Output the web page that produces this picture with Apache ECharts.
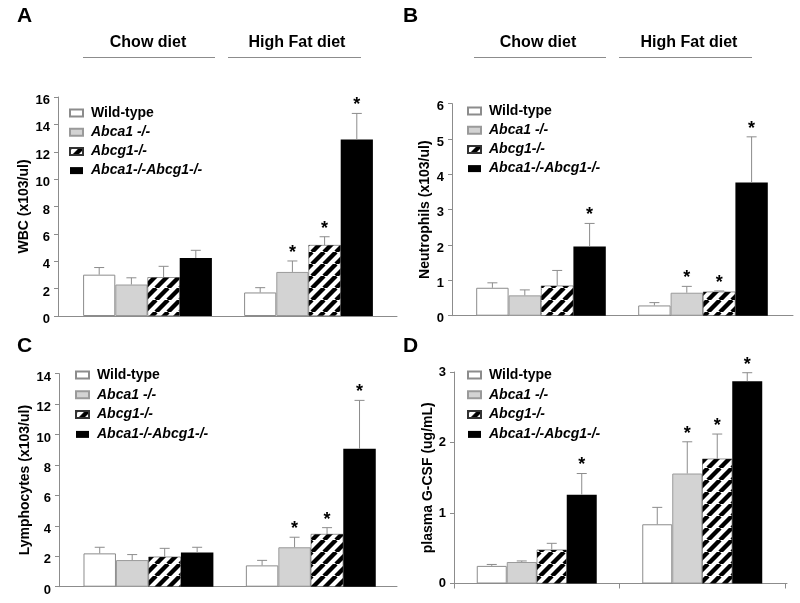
<!DOCTYPE html>
<html><head><meta charset="utf-8">
<script src="https://cdn.jsdelivr.net/npm/echarts@6/dist/echarts.min.js"></script>
<style>html,body{margin:0;padding:0;background:#fff}#c{width:800px;height:603px}</style>
</head><body><div id="c"></div>
<script>
// ---- data ----
const diets = ['Chow diet', 'High Fat diet'];
const genotypes = ['Wild-type', 'Abca1 -/-', 'Abcg1-/-', 'Abca1-/-Abcg1-/-'];
// values per genotype: [chow, high fat]
const wbcMean  = [[3.02, 1.72], [2.30, 3.22], [2.83, 5.18], [4.24, 12.9]];
const wbcErr   = [[3.54, 2.07], [2.79, 4.02], [3.63, 5.79], [4.80, 14.8]];
const wbcSig   = [[0, 0], [0, 1], [0, 1], [0, 1]];
const neuMean  = [[0.79, 0.29], [0.575, 0.65], [0.85, 0.68], [1.96, 3.77]];
const neuErr   = [[0.93, 0.37], [0.73, 0.83], [1.28, 0.70], [2.61, 5.06]];
const neuSig   = [[0, 0], [0, 1], [0, 1], [1, 1]];
const lymMean  = [[2.19, 1.40], [1.75, 2.59], [1.97, 3.46], [2.24, 9.06]];
const lymErr   = [[2.59, 1.73], [2.11, 3.25], [2.52, 3.88], [2.59, 12.24]];
const lymSig   = [[0, 0], [0, 1], [0, 1], [0, 1]];
const gcsfMean = [[0.25, 0.84], [0.305, 1.56], [0.48, 1.77], [1.26, 2.87]];
const gcsfErr  = [[0.27, 1.08], [0.32, 2.01], [0.57, 2.12], [1.56, 2.99]];
const gcsfSig  = [[0, 0], [0, 1], [0, 1], [1, 1]];
const yNames = ['WBC (x103/ul)', 'Neutrophils (x103/ul)', 'Lymphocytes (x103/ul)', 'plasma G-CSF (ug/mL)'];
const yMax = [16, 6, 14, 3];
const yStep = [2, 1, 2, 1];
const panelLetters = ['A', 'B', 'C', 'D'];

// ---- styling ----
const FONT = 'Liberation Sans, Arial, Helvetica, sans-serif';
const catGaps = [0.20, 0.20, 0.20, 0.275];
function hatchCanvas() {
  const s = 12, c = document.createElement('canvas');
  c.width = c.height = s;
  const g = c.getContext('2d');
  g.fillStyle = '#fff'; g.fillRect(0, 0, s, s);
  g.strokeStyle = '#000'; g.lineWidth = 4.4;
  for (const k of [-s, 0, s]) { g.beginPath(); g.moveTo(k, s); g.lineTo(k + s, 0); g.stroke(); }
  return c;
}
const hatch = { image: hatchCanvas(), repeat: 'repeat' };
const barStyles = [
  { color: '#ffffff', borderColor: '#8c8c8c', borderWidth: 1 },
  { color: '#d3d3d3', borderColor: '#9a9a9a', borderWidth: 1 },
  { color: hatch, borderColor: '#333', borderWidth: 0.5 },
  { color: '#000000', borderColor: '#000', borderWidth: 0 }
];

const panels = [
  { mean: wbcMean, err: wbcErr, sig: wbcSig },
  { mean: neuMean, err: neuErr, sig: neuSig },
  { mean: lymMean, err: lymErr, sig: lymSig },
  { mean: gcsfMean, err: gcsfErr, sig: gcsfSig }
];
// plotting grids (category band area)
const grids = [
  { left: 67, right: 411, top: 97, bottom: 287 },
  { left: 460, right: 16, top: 103.6, bottom: 287.3 },
  { left: 67.25, right: 408, top: 373.6, bottom: 16.3 },
  { left: 454, right: 15, top: 372, bottom: 19.5 }
];
// full axis-line extent
const lineGrids = [
  { left: 58, right: 403, top: 97, bottom: 287 },
  { left: 452, right: 7, top: 103.6, bottom: 287.3 },
  { left: 59, right: 403, top: 373.6, bottom: 16.3 },
  { left: 454, right: 13, top: 372, bottom: 19.5 }
];
const yOffsets = grids.map((g, i) => g.left - lineGrids[i].left);
const nameGaps = [26, 20, 25, 16];
const labelShift = [7, 6, 7, 0];
const legendPos = [
  { left: 69, top: 106, gap: 5.2 }, { left: 467, top: 104, gap: 5.2 },
  { left: 75, top: 368, gap: 5.8 }, { left: 467, top: 368, gap: 5.8 }
];

function errRender(k, gap) {
  return function (params, api) {
    const cat = api.value(0), mean = api.value(1), top = api.value(2), sig = api.value(3);
    const band = api.size([1, 0])[0];
    const bw = band * (1 - gap) / 4;
    const x = api.coord([cat, 0])[0] + (k - 1.5) * bw;
    const yb = api.coord([cat, mean])[1];
    const yt = api.coord([cat, top])[1];
    const ch = [];
    if (yt < yb - 0.5) {
      ch.push({ type: 'line', shape: { x1: x, y1: yb, x2: x, y2: yt }, style: { stroke: '#8c8c8c', lineWidth: 1 } });
      ch.push({ type: 'line', shape: { x1: x - 5, y1: yt, x2: x + 5, y2: yt }, style: { stroke: '#8c8c8c', lineWidth: 1 } });
    }
    if (sig) ch.push({ type: 'text', x: x, y: yt - 8, style: { text: '*', font: 'bold 18px ' + FONT, fill: '#000', align: 'center', verticalAlign: 'middle' } });
    return { type: 'group', children: ch };
  };
}

const option = {
  backgroundColor: '#fff',
  animation: false,
  textStyle: { fontFamily: FONT },
  grid: grids.concat(lineGrids),
  xAxis: grids.map((g, i) => ({
    type: 'category', gridIndex: i, data: diets,
    axisLine: { show: false },
    axisTick: { show: i === 3, length: 5, interval: 0, lineStyle: { color: '#8c8c8c' } },
    axisLabel: { show: false }
  })).concat(lineGrids.map((g, i) => ({
    type: 'value', gridIndex: 4 + i, min: 0, max: 1,
    axisLine: { show: true, onZero: false, lineStyle: { color: '#8c8c8c', width: 1 } },
    axisTick: { show: false }, axisLabel: { show: false }, splitLine: { show: false }
  }))),
  yAxis: grids.map((g, i) => ({
    type: 'value', gridIndex: i, min: 0, max: yMax[i], interval: yStep[i], offset: yOffsets[i],
    name: yNames[i], nameLocation: 'middle', nameGap: nameGaps[i],
    nameTextStyle: { fontSize: 14, fontWeight: 'bold', color: '#000', fontFamily: FONT },
    axisLine: { show: true, lineStyle: { color: '#8c8c8c', width: 1 } },
    axisTick: { show: true, length: 4, lineStyle: { color: '#8c8c8c' } },
    axisLabel: {
      margin: 8, formatter: '{v|{value}}',
      rich: { v: { fontSize: 13, fontWeight: 'bold', color: '#000', fontFamily: FONT, padding: [labelShift[i], 0, 0, 0] } }
    },
    splitLine: { show: false }
  })).concat(lineGrids.map((g, i) => ({
    type: 'value', gridIndex: 4 + i, min: 0, max: 1, show: false
  }))),
  legend: legendPos.map(p => ({
    left: p.left, top: p.top, padding: 0, orient: 'vertical', data: genotypes,
    icon: 'rect', itemWidth: 13, itemHeight: 7, itemGap: p.gap, selectedMode: false,
    formatter: n => (n === 'Wild-type' ? '{n|' + n + '}' : '{i|' + n + '}'),
    textStyle: {
      padding: [0, 0, 0, 3],
      rich: {
        n: { fontSize: 14, fontWeight: 'bold', color: '#000', lineHeight: 16, fontFamily: FONT },
        i: { fontSize: 14, fontWeight: 'bold', fontStyle: 'italic', color: '#000', lineHeight: 16, fontFamily: FONT }
      }
    }
  })),
  series: [],
  graphic: []
};

panels.forEach((p, i) => {
  genotypes.forEach((gname, k) => {
    option.series.push({
      type: 'bar', name: gname, xAxisIndex: i, yAxisIndex: i,
      data: p.mean[k], barGap: '0%', barCategoryGap: (catGaps[i] * 100) + '%',
      itemStyle: barStyles[k], z: 2
    });
  });
  genotypes.forEach((gname, k) => {
    option.series.push({
      type: 'custom', name: 'err-' + i + '-' + k, xAxisIndex: i, yAxisIndex: i,
      renderItem: errRender(k, catGaps[i]), z: 3,
      data: diets.map((d, j) => [j, p.mean[k][j], p.err[k][j], p.sig[k][j]])
    });
  });
});

// panel letters
const letterPos = [[17, 18], [403, 18], [17, 348], [403, 348]];
panelLetters.forEach((L, i) => {
  option.graphic.push({ type: 'text', left: letterPos[i][0], top: letterPos[i][1] - 12,
    style: { text: L, font: 'bold 21px ' + FONT, fill: '#000' } });
});
// diet headers (top row)
const headers = [
  { text: diets[0], cx: 148, x1: 83, x2: 215 },
  { text: diets[1], cx: 297, x1: 228, x2: 361 },
  { text: diets[0], cx: 538, x1: 474, x2: 606 },
  { text: diets[1], cx: 689, x1: 619, x2: 752 }
];
headers.forEach(h => {
  option.graphic.push({ type: 'text', x: h.cx, y: 43,
    style: { text: h.text, font: 'bold 16px ' + FONT, fill: '#000', align: 'center', verticalAlign: 'middle' } });
  option.graphic.push({ type: 'line', shape: { x1: h.x1, y1: 57.5, x2: h.x2, y2: 57.5 },
    style: { stroke: '#8c8c8c', lineWidth: 1 } });
});

const chart = echarts.init(document.getElementById('c'), null, { renderer: 'canvas' });
chart.setOption(option);
</script></body></html>
